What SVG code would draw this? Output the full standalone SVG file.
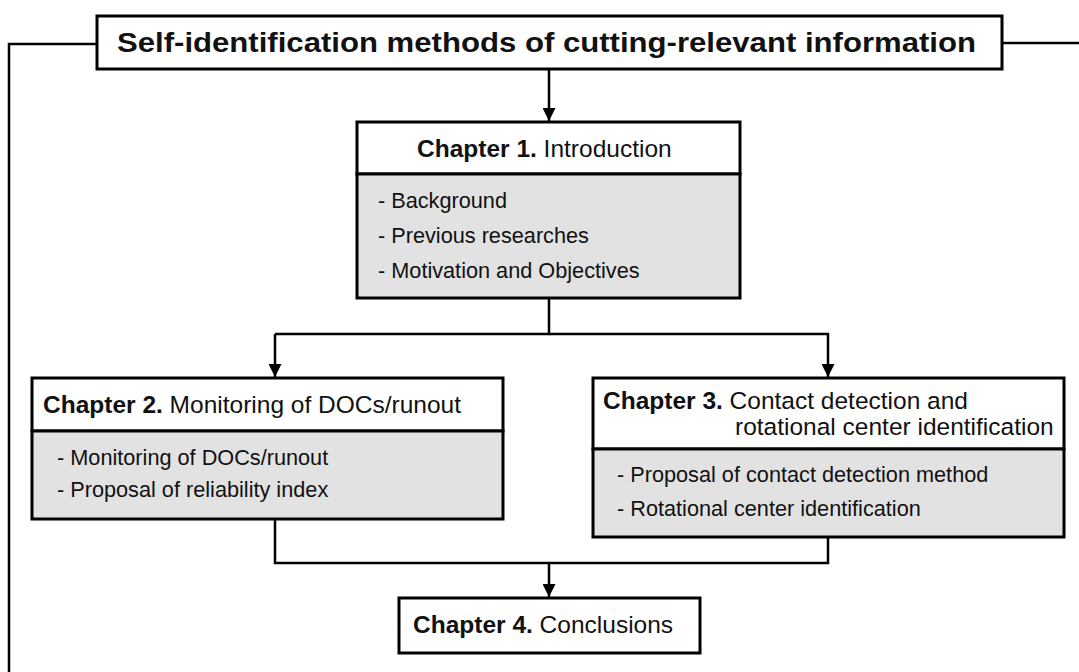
<svg xmlns="http://www.w3.org/2000/svg" width="1079" height="672" viewBox="0 0 1079 672">
  <defs>
    <marker id="arrow" viewBox="0 0 10 10" refX="10" refY="5" markerWidth="13" markerHeight="13" markerUnits="userSpaceOnUse" orient="auto">
      <path d="M0,0 L10,5 L0,10 z" fill="#000"/>
    </marker>
    <style>
      .box { fill: #fff; stroke: #000; stroke-width: 3; }
      .body { fill: #e2e2e2; stroke: #000; stroke-width: 3; }
      .wire { fill: none; stroke: #000; stroke-width: 2.5; }
      .arr { fill: none; stroke: #000; stroke-width: 2.5; marker-end: url(#arrow); }
      text { font-family: "Liberation Sans", Arial, sans-serif; fill: #111; }
      .head { font-size: 24.5px; }
      .b { font-weight: bold; }
      .item { font-size: 21.7px; }
      .title { font-size: 27px; font-weight: bold; }
    </style>
  </defs>

  <!-- connectors -->
  <g id="connectors">
    <path class="wire" d="M97,44 H9 V672"/>
    <path class="wire" d="M1002,43 H1079"/>
    <path class="arr" d="M549,70 V121"/>
    <path class="wire" d="M549,298 V334 H275"/>
    <path class="arr" d="M275,334 V377"/>
    <path class="arr" d="M549,334 H828 V377"/>
    <path class="wire" d="M275,519 V563 H828 V537"/>
    <path class="arr" d="M549,563 V597"/>
  </g>

  <!-- title -->
  <g id="title">
    <rect class="box" x="97" y="16" width="905" height="53"/>
    <text class="title" x="117" y="52" textLength="859" lengthAdjust="spacingAndGlyphs">Self-identification methods of cutting-relevant information</text>
  </g>

  <!-- chapter 1 -->
  <g id="chapter1">
    <rect class="box" x="357" y="122" width="383" height="52"/>
    <rect class="body" x="357" y="174" width="383" height="124"/>
    <text class="head" x="417" y="157"><tspan class="b">Chapter 1.</tspan> Introduction</text>
    <text class="item" x="378" y="208">- Background</text>
    <text class="item" x="378" y="243">- Previous researches</text>
    <text class="item" x="378" y="278">- Motivation and Objectives</text>
  </g>

  <!-- chapter 2 -->
  <g id="chapter2">
    <rect class="box" x="32" y="378" width="471" height="53"/>
    <rect class="body" x="32" y="431" width="471" height="88"/>
    <text class="head" x="43" y="413"><tspan class="b">Chapter 2.</tspan> Monitoring of DOCs/runout</text>
    <text class="item" x="57" y="465">- Monitoring of DOCs/runout</text>
    <text class="item" x="57" y="497">- Proposal of reliability index</text>
  </g>

  <!-- chapter 3 -->
  <g id="chapter3">
    <rect class="box" x="593" y="378" width="471" height="71"/>
    <rect class="body" x="593" y="449" width="471" height="88"/>
    <text class="head" x="603" y="409"><tspan class="b">Chapter 3.</tspan> Contact detection and</text>
    <text class="head" x="735" y="435">rotational center identification</text>
    <text class="item" x="617" y="482">- Proposal of contact detection method</text>
    <text class="item" x="617" y="516">- Rotational center identification</text>
  </g>

  <!-- chapter 4 -->
  <g id="chapter4">
    <rect class="box" x="399" y="598" width="301" height="55"/>
    <text class="head" x="413" y="633"><tspan class="b">Chapter 4.</tspan> Conclusions</text>
  </g>
</svg>
